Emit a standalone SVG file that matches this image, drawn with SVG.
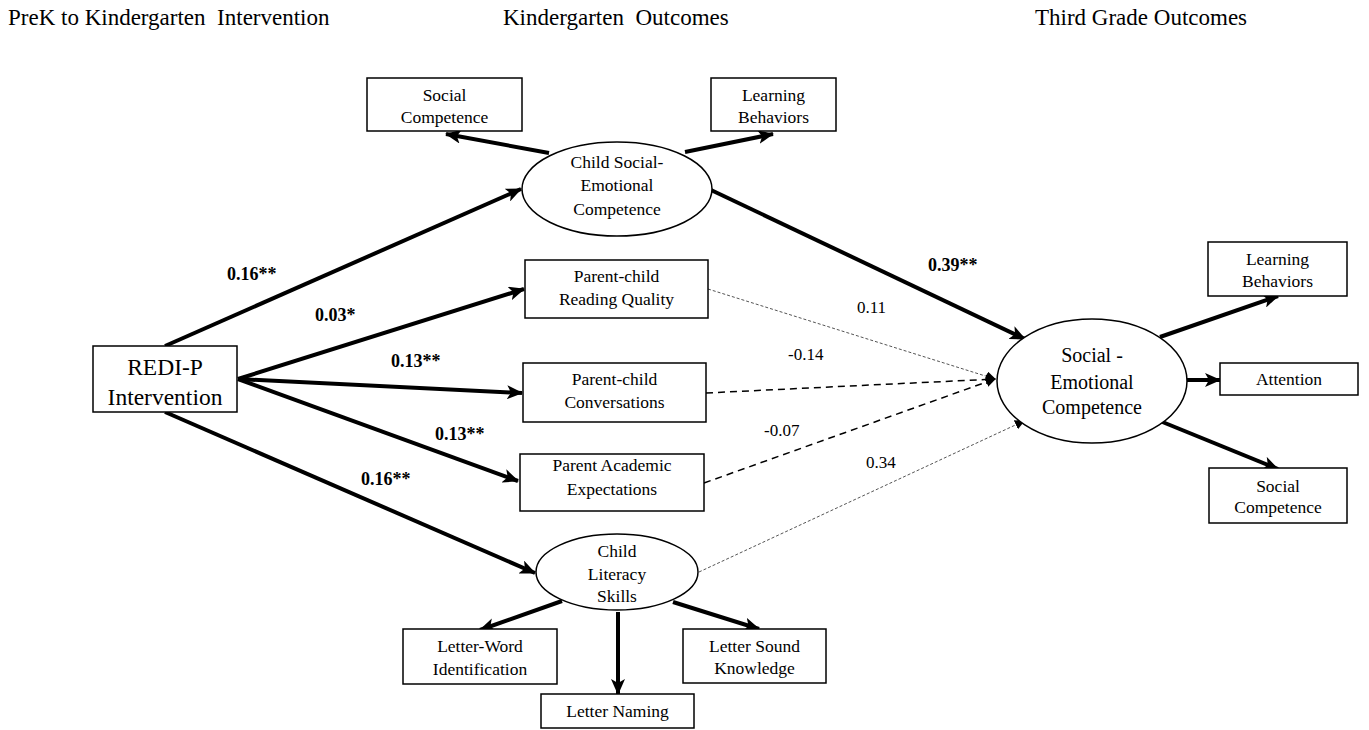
<svg xmlns="http://www.w3.org/2000/svg" width="1369" height="730" viewBox="0 0 1369 730">
<style>
text{font-family:"Liberation Serif","Times New Roman",serif;fill:#000}
.hd{font-size:23px}
.n{font-size:17.5px;text-anchor:middle}
.big{font-size:23.5px;text-anchor:middle}
.mid{font-size:20px;text-anchor:middle}
.lb{font-size:18px;font-weight:bold}
.lt{font-size:17px}
.box{fill:#fff;stroke:#000;stroke-width:1.5}
.thick{stroke:#000;stroke-width:4;fill:none}
.dot{stroke:#555;stroke-width:1;stroke-dasharray:3 2;fill:none}
.dash{stroke:#000;stroke-width:1.5;stroke-dasharray:7 5;fill:none}
</style>
<defs>
<marker id="ah" markerUnits="userSpaceOnUse" markerWidth="16" markerHeight="14" refX="15" refY="7" orient="auto">
<path d="M0,0 L16,7 L0,14 L4,7 Z" fill="#000"/>
</marker>
<marker id="as" markerUnits="userSpaceOnUse" markerWidth="10" markerHeight="10" refX="9" refY="5" orient="auto">
<path d="M0,0 L10,5 L0,10 Z" fill="#000"/>
</marker>
</defs>
<rect width="1369" height="730" fill="#fff"/>
<text class="hd" x="8" y="25" xml:space="preserve">PreK to Kindergarten  Intervention</text>
<text class="hd" x="503" y="25" xml:space="preserve">Kindergarten  Outcomes</text>
<text class="hd" x="1035" y="25">Third Grade Outcomes</text>

<g id="connectors">
<line class="thick" x1="165" y1="346" x2="521" y2="189" marker-end="url(#ah)"/>
<line class="thick" x1="238" y1="379" x2="524" y2="289" marker-end="url(#ah)"/>
<line class="thick" x1="238" y1="379" x2="522" y2="393" marker-end="url(#ah)"/>
<line class="thick" x1="238" y1="379" x2="518" y2="481" marker-end="url(#ah)"/>
<line class="thick" x1="165" y1="412" x2="535" y2="573" marker-end="url(#ah)"/>
<line class="thick" x1="549" y1="153" x2="446" y2="134" marker-end="url(#ah)"/>
<line class="thick" x1="685" y1="152" x2="773" y2="134" marker-end="url(#ah)"/>
<line class="thick" x1="711" y1="190" x2="1025" y2="339" marker-end="url(#ah)"/>
<line class="dot" x1="708" y1="289" x2="995" y2="379" marker-end="url(#as)"/>
<line class="dash" x1="706" y1="393" x2="995" y2="379" marker-end="url(#as)"/>
<line class="dash" x1="704" y1="483" x2="995" y2="379" marker-end="url(#as)"/>
<line class="dot" x1="699" y1="572" x2="1024" y2="421" marker-end="url(#as)"/>
<line class="thick" x1="1160" y1="337" x2="1278" y2="296" marker-end="url(#ah)"/>
<line class="thick" x1="1187" y1="380" x2="1220" y2="380" marker-end="url(#ah)"/>
<line class="thick" x1="1160" y1="421" x2="1278" y2="469" marker-end="url(#ah)"/>
<line class="thick" x1="562" y1="601" x2="480" y2="630" marker-end="url(#ah)"/>
<line class="thick" x1="618" y1="612" x2="618" y2="694" marker-end="url(#ah)"/>
<line class="thick" x1="673" y1="602" x2="759" y2="629" marker-end="url(#ah)"/>
</g>

<g id="labels">
<text class="lb" x="227" y="280">0.16**</text>
<text class="lb" x="315" y="321">0.03*</text>
<text class="lb" x="391" y="367">0.13**</text>
<text class="lb" x="435" y="440">0.13**</text>
<text class="lb" x="361" y="485">0.16**</text>
<text class="lb" x="928" y="271">0.39**</text>
<text class="lt" x="857" y="313">0.11</text>
<text class="lt" x="788" y="360">-0.14</text>
<text class="lt" x="764" y="436">-0.07</text>
<text class="lt" x="866" y="468">0.34</text>
</g>

<g id="redip">
<rect class="box" x="93" y="346" width="144" height="66"/>
<text class="big" x="165" y="375">REDI-P</text>
<text class="big" x="165" y="405">Intervention</text>
</g>
<g id="k-social-competence">
<rect class="box" x="367" y="78" width="155" height="53"/>
<text class="n" x="444.5" y="101">Social</text>
<text class="n" x="444.5" y="123">Competence</text>
</g>
<g id="k-learning-behaviors">
<rect class="box" x="711" y="78" width="125" height="53"/>
<text class="n" x="773.5" y="101">Learning</text>
<text class="n" x="773.5" y="123">Behaviors</text>
</g>
<g id="child-sec">
<ellipse cx="617" cy="189" rx="95" ry="47" fill="#fff" stroke="#000" stroke-width="1.5"/>
<text class="n" x="617" y="168">Child Social-</text>
<text class="n" x="617" y="191">Emotional</text>
<text class="n" x="617" y="215">Competence</text>
</g>
<g id="reading-quality">
<rect class="box" x="525" y="260" width="183" height="58"/>
<text class="n" x="616.5" y="282">Parent-child</text>
<text class="n" x="616.5" y="305">Reading Quality</text>
</g>
<g id="conversations">
<rect class="box" x="523" y="363" width="183" height="59"/>
<text class="n" x="614.5" y="385">Parent-child</text>
<text class="n" x="614.5" y="408">Conversations</text>
</g>
<g id="expectations">
<rect class="box" x="520" y="454" width="184" height="57"/>
<text class="n" x="612" y="471">Parent Academic</text>
<text class="n" x="612" y="495">Expectations</text>
</g>
<g id="child-literacy">
<ellipse cx="617" cy="572" rx="81" ry="38" fill="#fff" stroke="#000" stroke-width="1.5"/>
<text class="n" x="617" y="557">Child</text>
<text class="n" x="617" y="580">Literacy</text>
<text class="n" x="617" y="602">Skills</text>
</g>
<g id="letter-word">
<rect class="box" x="403" y="629" width="154" height="55"/>
<text class="n" x="480" y="652">Letter-Word</text>
<text class="n" x="480" y="675">Identification</text>
</g>
<g id="letter-naming">
<rect class="box" x="541" y="694" width="153" height="34"/>
<text class="n" x="617.5" y="717">Letter Naming</text>
</g>
<g id="letter-sound">
<rect class="box" x="683" y="629" width="143" height="54"/>
<text class="n" x="754.5" y="652">Letter Sound</text>
<text class="n" x="754.5" y="674">Knowledge</text>
</g>
<g id="sec-third">
<ellipse cx="1092" cy="381" rx="95" ry="62" fill="#fff" stroke="#000" stroke-width="1.5"/>
<text class="mid" x="1092" y="362">Social -</text>
<text class="mid" x="1092" y="389">Emotional</text>
<text class="mid" x="1092" y="414">Competence</text>
</g>
<g id="t-learning-behaviors">
<rect class="box" x="1208" y="242" width="139" height="54"/>
<text class="n" x="1277.5" y="265">Learning</text>
<text class="n" x="1277.5" y="287">Behaviors</text>
</g>
<g id="t-attention">
<rect class="box" x="1220" y="363" width="138" height="32"/>
<text class="n" x="1289" y="385">Attention</text>
</g>
<g id="t-social-competence">
<rect class="box" x="1209" y="468" width="138" height="55"/>
<text class="n" x="1278" y="492">Social</text>
<text class="n" x="1278" y="513">Competence</text>
</g>
</svg>
